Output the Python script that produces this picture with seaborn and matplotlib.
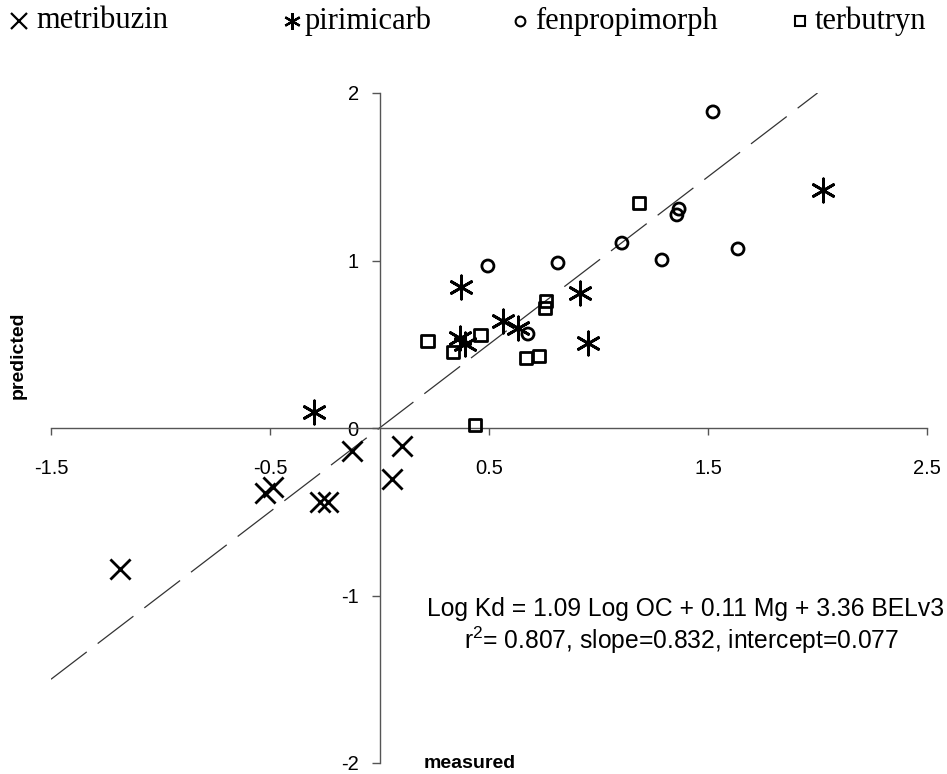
import matplotlib
matplotlib.use("Agg")
import matplotlib.pyplot as plt
from matplotlib.lines import Line2D
import seaborn as sns
import pandas as pd

# ---- data (measured vs predicted log Kd) ----
metribuzin_x = [-1.185, -0.523, -0.486, -0.272, -0.235, -0.126, 0.103, 0.057]
metribuzin_y = [-0.842, -0.388, -0.352, -0.442, -0.442, -0.137, -0.107, -0.304]

pirimicarb_x = [-0.299, 0.372, 0.368, 0.390, 0.564, 0.632, 0.916, 0.952, 2.025]
pirimicarb_y = [0.096, 0.842, 0.537, 0.501, 0.639, 0.597, 0.806, 0.507, 1.421]

fenpropimorph_x = [0.495, 0.815, 0.678, 1.107, 1.290, 1.368, 1.358, 1.637, 1.523]
fenpropimorph_y = [0.967, 0.985, 0.561, 1.104, 1.003, 1.307, 1.272, 1.069, 1.887]

terbutryn_x = [0.221, 0.336, 0.463, 0.669, 0.728, 0.760, 0.756, 0.436, 1.185]
terbutryn_y = [0.519, 0.454, 0.555, 0.418, 0.430, 0.758, 0.716, 0.018, 1.343]

one_to_one = [-1.5, 2.0]

x_ticks = [-1.5, -0.5, 0.5, 1.5, 2.5]
x_tick_labels = ["-1.5", "-0.5", "0.5", "1.5", "2.5"]
y_ticks = [-2, -1, 0, 1, 2]
y_tick_labels = ["-2", "-1", "0", "1", "2"]

series_names = ["metribuzin", "pirimicarb", "fenpropimorph", "terbutryn"]

eq_line1 = "Log Kd = 1.09 Log OC + 0.11 Mg + 3.36 BELv3"
eq_line2 = "r$^{2}$= 0.807, slope=0.832, intercept=0.077"

# ---- style ----
sns.set_theme(style="white")
plt.rcParams["font.family"] = ["Liberation Sans", "DejaVu Sans"]
plt.rcParams["text.color"] = "black"
plt.rcParams["mathtext.fontset"] = "custom"
plt.rcParams["mathtext.rm"] = "Liberation Sans"
plt.rcParams["mathtext.it"] = "Liberation Sans"
plt.rcParams["mathtext.default"] = "regular"

fig = plt.figure(figsize=(9.47, 7.74), dpi=100)
W, H = 947, 774
ax = fig.add_axes([51 / W, 1 - 763 / H, (927 - 51) / W, (763 - 93) / H])

# 1:1 dashed line
ref_df = pd.DataFrame({"x": one_to_one, "y": one_to_one})
sns.lineplot(data=ref_df, x="x", y="y", ax=ax, color="#333333", linewidth=0.9,
             dashes=False, zorder=1)
ax.lines[-1].set_dashes((36, 11))

def df(x, y):
    return pd.DataFrame({"m": x, "p": y})

sns.scatterplot(data=df(metribuzin_x, metribuzin_y), x="m", y="p", ax=ax,
                marker="x", s=210, color="black", linewidth=2.0, zorder=3)
sns.scatterplot(data=df(pirimicarb_x, pirimicarb_y), x="m", y="p", ax=ax,
                marker=(6, 2, 0), s=280, color="black", linewidth=2.0, zorder=3)
sns.scatterplot(data=df(fenpropimorph_x, fenpropimorph_y), x="m", y="p", ax=ax,
                marker="o", s=75, facecolor="none", edgecolor="black",
                linewidth=2.0, zorder=3)
sns.scatterplot(data=df(terbutryn_x, terbutryn_y), x="m", y="p", ax=ax,
                marker="s", s=85, facecolor="none", edgecolor="black",
                linewidth=2.0, zorder=3)

ax.set_xlim(-1.5, 2.5)
ax.set_ylim(-2, 2)

for side in ["top", "right"]:
    ax.spines[side].set_visible(False)
for side in ["left", "bottom"]:
    ax.spines[side].set_position(("data", 0))
    ax.spines[side].set_color("#555555")
    ax.spines[side].set_linewidth(1.0)

ax.set_xticks(x_ticks)
ax.set_xticklabels(x_tick_labels)
ax.set_yticks(y_ticks)
ax.set_yticklabels(y_tick_labels)
ax.tick_params(axis="x", direction="out", length=5, width=1.0, color="#555555",
               pad=17, labelsize=14.5, labelcolor="black", bottom=True)
ax.tick_params(axis="y", direction="out", length=6, width=1.0, color="#555555",
               pad=9, labelsize=14.5, labelcolor="black", left=True)
ax.set_xlabel("")
ax.set_ylabel("")

# axis titles
fig.text(18 / W, 1 - 355 / H, "predicted", rotation=90, ha="center", va="center",
         fontsize=14, fontweight="bold", color="black")
fig.text(470 / W, 1 - 764 / H, "measured", ha="center", va="center",
         fontsize=14, fontweight="bold", color="black")

# equation
fig.text(686 / W, 1 - 609 / H, eq_line1, ha="center", va="center", fontsize=17.7,
         color="black")
fig.text(682 / W, 1 - 640 / H, eq_line2, ha="center", va="center", fontsize=17.7,
         color="black")

# legend (placed entry by entry along the top)
legend_markers = [
    dict(marker="x", markersize=11, markeredgewidth=1.6, color="black"),
    dict(marker=(6, 2, 0), markersize=12, markeredgewidth=1.6, color="black"),
    dict(marker="o", markersize=7, markerfacecolor="none",
         markeredgecolor="black", markeredgewidth=1.5),
    dict(marker="s", markersize=7, markerfacecolor="none",
         markeredgecolor="black", markeredgewidth=1.5),
]
marker_px = [19, 292, 520, 800]
text_px = [36, 305, 535, 815]
leg_y = 1 - 21 / H
for name, mk, mx, tx in zip(series_names, legend_markers, marker_px, text_px):
    fig.add_artist(Line2D([mx / W], [leg_y], linestyle="none",
                          transform=fig.transFigure, **mk))
    fig.text(tx / W, leg_y, name, ha="left", va="center",
             family="Liberation Serif", fontsize=22, color="black")

fig.savefig("out.png", dpi=100)
